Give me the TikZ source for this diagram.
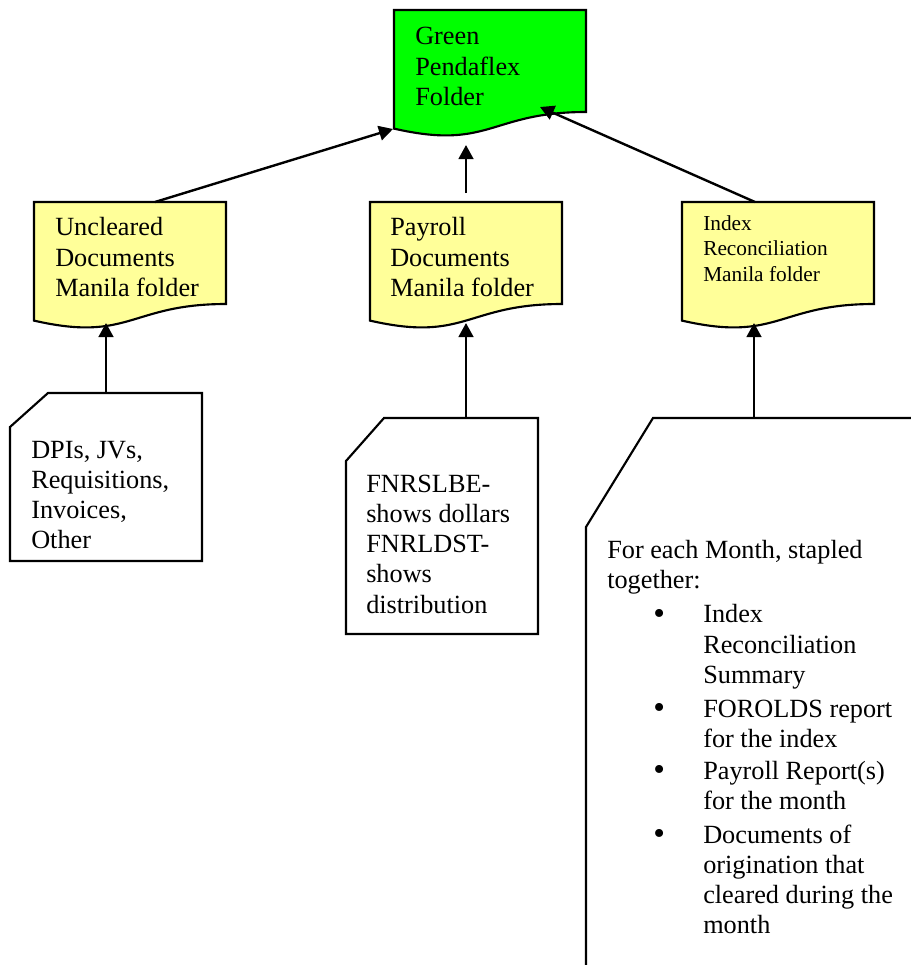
\documentclass[tikz,border=0pt]{standalone}
\usepackage{fontspec}
\setmainfont{Liberation Serif}
\usetikzlibrary{arrows.meta}
\definecolor{brightgreen}{RGB}{0,255,0}
\definecolor{manila}{RGB}{255,255,153}
\newcommand\mydocshape[3]{%
  \filldraw[outline, fill=#3] (#1,#2) -- ({#1+192},#2) -- ({#1+192},{#2+102})
    .. controls ({#1+96},{#2+102}) and ({#1+96},{#2+140.7}) .. (#1,{#2+118.6}) -- cycle;}
\begin{document}
\begin{tikzpicture}[x=0.75pt,y=-0.75pt,
  outline/.style={line width=1.6pt, line join=miter},
  conn/.style={line width=1.8pt, -{Triangle[length=10.5pt,width=11pt]}},
  txt/.style={anchor=base west, align=left, inner sep=0pt, font=\fontsize{19.7}{22.7}\selectfont},
  bul/.style={anchor=base west, inner sep=0pt, font=\fontsize{25}{25}\selectfont},
  smalltxt/.style={anchor=base west, align=left, inner sep=0pt, font=\fontsize{16}{18.8}\selectfont}]
\useasboundingbox (0,0) rectangle (911,965);
% folders
\mydocshape{394}{10}{brightgreen}
\mydocshape{34}{202}{manila}
\mydocshape{370}{202}{manila}
\mydocshape{682}{202}{manila}
% cards
\draw[outline] (48,393) -- (202,393) -- (202,561) -- (10,561) -- (10,427) -- cycle;
\draw[outline] (384,418) -- (538,418) -- (538,634) -- (346,634) -- (346,461) -- cycle;
\begin{scope}
  \clip (0,0) rectangle (911,965);
  \draw[outline] (653,418) -- (930,418) -- (930,990) -- (586,990) -- (586,527) -- cycle;
\end{scope}
% texts (anchored at the baseline of their last line)
\node[txt] (tgreen) at (415,105.5) {Green\\Pendaflex\\Folder};
\node[txt] (tuncl) at (55,296.5) {Uncleared\\Documents\\Manila folder};
\node[txt] (tpay) at (390,296.5) {Payroll\\Documents\\Manila folder};
\node[smalltxt] (tidx) at (703,281) {Index\\Reconciliation\\Manila folder};
\node[txt] (tdpi) at (31,548.8) {DPIs, JVs,\\Requisitions,\\Invoices,\\Other};
\node[txt] (tfnr) at (366,613.1) {FNRSLBE-\\shows dollars\\FNRLDST-\\shows\\distribution};
\node[txt] (tfor) at (607,588.3) {For each Month, stapled\\together:};
\node[bul] (b1) at (653,624) {\textbullet};
\node[txt] (i1) at (703,683.5) {Index\\Reconciliation\\Summary};
\node[bul] (b2) at (653,718) {\textbullet};
\node[txt] (i2) at (703,747.3) {FOROLDS report\\for the index};
\node[bul] (b3) at (653,780) {\textbullet};
\node[txt] (i3) at (703,809.3) {Payroll Report(s)\\for the month};
\node[bul] (b4) at (653,844) {\textbullet};
\node[txt] (i4) at (703,933.8) {Documents of\\origination that\\cleared during the\\month};
% connection points
\coordinate (unclTop) at (155,202);
\coordinate (greenL) at (393,129);
\coordinate (payTop) at (466,193);
\coordinate (greenB) at (466,145);
\coordinate (idxTop) at (755,202);
\coordinate (greenR) at (540,107);
\coordinate (dpiTop) at (106,393);
\coordinate (unclB) at (106,323);
\coordinate (fnrTop) at (466,418);
\coordinate (payB) at (466,323);
\coordinate (rcTop) at (754,418);
\coordinate (idxB) at (754,323);
% connectors
\draw[conn] (unclTop) -- (greenL);
\draw[conn] (payTop) -- (greenB);
\draw[conn] (idxTop) -- (greenR);
\draw[conn] (dpiTop) -- (unclB);
\draw[conn] (fnrTop) -- (payB);
\draw[conn] (rcTop) -- (idxB);
\end{tikzpicture}
\end{document}
